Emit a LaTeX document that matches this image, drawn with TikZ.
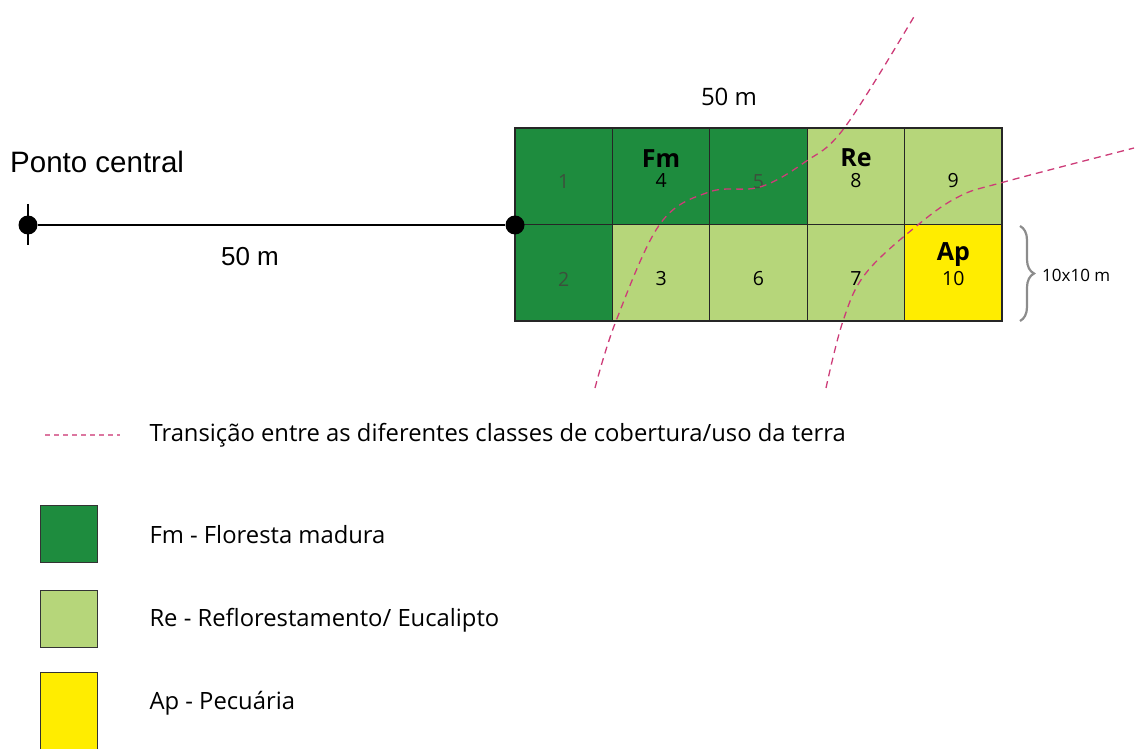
\documentclass[tikz,border=0pt]{standalone}
\usepackage{fontspec}
\setmainfont{Open Sans}
\newfontfamily\lib{Liberation Sans}
\usetikzlibrary{decorations.pathreplacing}
\definecolor{fmgreen}{RGB}{30,140,62}
\definecolor{regreen}{RGB}{182,214,122}
\definecolor{apyellow}{RGB}{255,237,0}
\definecolor{trans}{RGB}{205,60,120}
\definecolor{dimtxt}{RGB}{60,80,60}
\begin{document}
\begin{tikzpicture}[x=1pt,y=1pt,
  cell/.style={draw=black!85,line width=1.2pt,minimum width=97.4pt,minimum height=96.5pt,inner sep=0pt,anchor=center},
  dot/.style={circle,fill=black,inner sep=0pt,minimum size=19pt},
  num/.style={font=\fontsize{19.5}{19.5}\selectfont},
  cls/.style={font=\bfseries\fontsize{25}{25}\selectfont},
  transline/.style={draw=trans,line width=1.3pt,dash pattern=on 7pt off 5pt},
  legbox/.style={draw=black!80,line width=1pt,minimum width=57pt,minimum height=57pt,inner sep=0pt},
  legtxt/.style={anchor=west,font=\fontsize{23.8}{23.8}\selectfont}]
\useasboundingbox (0,0) rectangle (1136,-749);
% grid
\node[cell,fill=fmgreen] (c1) at (563.7,-176.2) {};
\node[cell,fill=fmgreen] (c4) at (661.1,-176.2) {};
\node[cell,fill=fmgreen] (c5) at (758.5,-176.2) {};
\node[cell,fill=regreen] (c8) at (855.9,-176.2) {};
\node[cell,fill=regreen] (c9) at (953.3,-176.2) {};
\node[cell,fill=fmgreen] (c2) at (563.7,-272.7) {};
\node[cell,fill=regreen] (c3) at (661.1,-272.7) {};
\node[cell,fill=regreen] (c6) at (758.5,-272.7) {};
\node[cell,fill=regreen] (c7) at (855.9,-272.7) {};
\node[cell,fill=apyellow] (c10) at (953.3,-272.7) {};
% labels in cells
\node[num,text=dimtxt] (n1) at (563.7,-182) {1};
\node[num] (n4) at (661.1,-181) {4};
\node[cls] (lfm) at (661.1,-159) {Fm};
\node[num,text=dimtxt] (n5) at (758.5,-182) {5};
\node[num] (n8) at (855.9,-181) {8};
\node[cls] (lre) at (855.9,-158) {Re};
\node[num] (n9) at (953.3,-181) {9};
\node[num,text=dimtxt] (n2) at (563.7,-279) {2};
\node[num] (n3) at (661.1,-279) {3};
\node[num] (n6) at (758.5,-279) {6};
\node[num] (n7) at (855.9,-279) {7};
\node[num] (n10) at (953.3,-279) {10};
\node[cls] (lap) at (953.3,-255) {Ap};
% central line
\node[dot] (pc) at (28,-225) {};
\node[dot] (pe) at (515,-225) {};
\draw[line width=1.4pt] (pc) -- (pe);
\draw[line width=1.6pt] (28,-204) -- (28,-245);
\node[anchor=west,font=\lib\fontsize{29.5}{29.5}\selectfont,inner sep=0pt] (ponto) at (10,-162) {Ponto central};
\node[font=\lib\fontsize{26}{26}\selectfont] (d1) at (250,-257) {50 m};
\node[font=\fontsize{24}{24}\selectfont] (d2) at (729,-97) {50 m};
% brace
\draw[decorate,decoration={brace,amplitude=14pt},draw=black!45,line width=2.2pt] (1020,-226) -- (1020,-321);
\node[font=\fontsize{17}{17}\selectfont,anchor=west,inner sep=0pt] (dim) at (1042,-275) {10x10 m};
% transition lines
\draw[transline] plot[smooth,tension=0.6] coordinates {(595,-388) (616,-321) (660,-224) (709,-192) (760,-187) (805,-162) (845,-127) (915,-15)};
\draw[transline] plot[smooth,tension=0.6] coordinates {(826,-388) (843,-321) (866,-273) (919,-224) (960,-196) (1004,-182) (1134,-148)};
% legend
\draw[draw=trans!70,line width=1.2pt,dash pattern=on 5pt off 4pt] (45,-435) -- (120,-435);
\node[legtxt] (t0) at (146,-435) {Transição entre as diferentes classes de cobertura/uso da terra};
\node[legbox,fill=fmgreen] (b1) at (68.5,-533.5) {};
\node[legbox,fill=regreen] (b2) at (68.5,-618.5) {};
\node[legbox,fill=apyellow,minimum height=80pt] (b3) at (68.5,-712) {};
\node[legtxt] (t1) at (146,-535) {Fm - Floresta madura};
\node[legtxt] (t2) at (146,-620) {Re - Reflorestamento/ Eucalipto};
\node[legtxt] (t3) at (146,-703) {Ap - Pecuária};
\end{tikzpicture}
\end{document}
